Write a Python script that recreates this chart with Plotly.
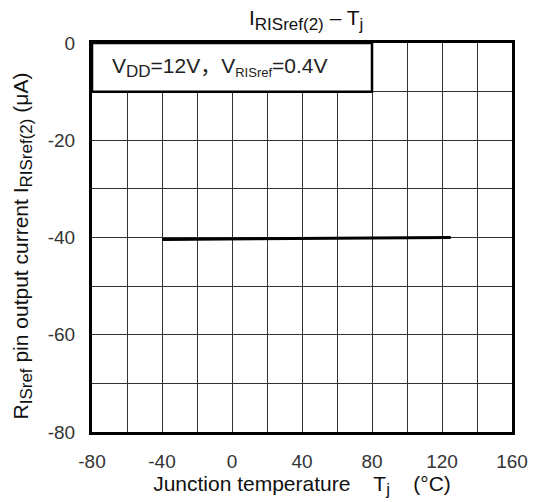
import plotly.graph_objects as go

temp_c = [-40, -20, 0, 20, 40, 60, 80, 100, 125]
current_ua = [-40.4, -40.35, -40.3, -40.2, -40.15, -40.1, -40.05, -40.05, -40.0]

x_ticks = [-80, -40, 0, 40, 80, 120, 160]
y_ticks = [0, -20, -40, -60, -80]

FONT = "Liberation Sans, Arial, Noto Sans CJK SC, sans-serif"

fig = go.Figure()
fig.add_trace(go.Scatter(x=temp_c, y=current_ua, mode="lines",
                         line=dict(color="black", width=3), showlegend=False))

fig.add_shape(type="rect", xref="x", yref="y", x0=-80, x1=80, y0=0, y1=-10,
              line=dict(color="black", width=2.5), fillcolor="white", layer="above")
fig.add_annotation(xref="x", yref="y", x=-80, y=-5, xanchor="left", yanchor="middle",
                   xshift=18, showarrow=False,
                   text="V<sub><span style='font-size:17px'>DD</span></sub>=12V，V<sub><span style='font-size:13px'>RISref</span></sub>=0.4V",
                   font=dict(family=FONT, size=21, color="#222"))

# y-axis title as rotated annotation for precise placement
fig.add_annotation(xref="paper", yref="paper", x=0, y=0.5, xshift=-70, yshift=-9,
                   xanchor="center", yanchor="middle", textangle=-90, showarrow=False,
                   text="R<sub><span style='font-size:17px'>ISref</span></sub> pin output current I<sub><span style='font-size:17px'>RISref(2)</span></sub> (μA)",
                   font=dict(family=FONT, size=21, color="#111"))

axis_common = dict(showline=True, linecolor="black", linewidth=3, mirror=True,
                   showgrid=True, gridcolor="#333", gridwidth=1, zeroline=False,
                   ticks="", tickfont=dict(family=FONT, size=19, color="#333"),
                   ticklabelstandoff=10)

fig.update_layout(
    width=540, height=502,
    margin=dict(l=92, r=24, t=43, b=70),
    paper_bgcolor="white", plot_bgcolor="white",
    font=dict(family=FONT, color="#111"),
    title=dict(text="I<sub><span style='font-size:17px'>RISref(2)</span></sub> – T<sub><span style='font-size:17px'>j</span></sub>",
               x=0.567, xanchor="center",
               y=0.964, yanchor="middle", font=dict(family=FONT, size=21, color="#111")),
    xaxis=dict(range=[-80, 160], tickvals=x_ticks, ticktext=[str(v) for v in x_ticks],
               minor=dict(dtick=20, tick0=-80, showgrid=True, gridcolor="#333", gridwidth=1),
               title=dict(text="Junction temperature    T<sub><span style='font-size:17px'>j</span></sub>    (°C)",
                          font=dict(family=FONT, size=21, color="#111"), standoff=4),
               **axis_common),
    yaxis=dict(range=[-80, 0], tickvals=y_ticks, ticktext=[str(v) for v in y_ticks],
               minor=dict(dtick=10, tick0=0, showgrid=True, gridcolor="#333", gridwidth=1),
               **axis_common),
)

fig.write_html("out.html")
